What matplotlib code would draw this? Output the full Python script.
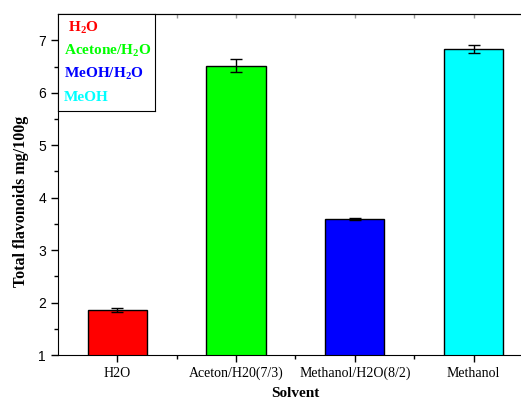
import numpy as np
import matplotlib.pyplot as plt

# solvent extraction results
categories = ['H2O', 'Aceton/H20(7/3)', 'Methanol/H2O(8/2)', 'Methanol']
values = [1.86, 6.52, 3.60, 6.83]
errors = [0.03, 0.12, 0.02, 0.08]
colors = ['#ff0000', '#00ff00', '#0000ff', '#00ffff']
legend_labels = [r'H$_\mathbf{2}$O', r'Acetone/H$_\mathbf{2}$O', r'MeOH/H$_\mathbf{2}$O', 'MeOH']

plt.rcParams['mathtext.fontset'] = 'custom'
plt.rcParams['mathtext.rm'] = 'Liberation Serif:bold'
plt.rcParams['mathtext.bf'] = 'Liberation Serif:bold'

fig = plt.figure(figsize=(5.21, 4.03), dpi=100)
ax = fig.add_axes([0.111, 0.119, 0.912, 0.846])

x = np.arange(1, len(categories) + 1)
ax.bar(x, values, width=0.5, color=colors, edgecolor='black', linewidth=1.0,
       yerr=errors, capsize=4, error_kw={'elinewidth': 1, 'capthick': 1, 'ecolor': 'black'})

ax.set_xlim(0.5, 4.5)
ax.set_ylim(1, 7.5)
ax.set_xticks(x)
ax.set_xticklabels(categories, fontfamily='Liberation Serif', fontsize=10)
ax.set_xticks([1.5, 2.5, 3.5], minor=True)
ax.set_yticks(range(1, 8))
ax.set_yticks(np.arange(1.5, 7.5, 1.0), minor=True)
for lbl in ax.get_yticklabels():
    lbl.set_fontfamily('Liberation Sans')
    lbl.set_fontsize(10)
ax.tick_params(axis='both', which='major', length=5, width=1, direction='out')
ax.tick_params(axis='both', which='minor', length=3, width=1, direction='out')

# short grey inward marks on the top spine
top = ax.secondary_xaxis('top')
top.set_xticks(list(x) + [1.5, 2.5, 3.5])
top.set_xticklabels([])
top.tick_params(direction='in', length=3, width=1, color='0.6')

ax.set_xlabel('Solvent', fontfamily='Liberation Serif', fontweight='bold', fontsize=11, labelpad=5)
ax.set_ylabel('Total flavonoids mg/100g', fontfamily='Liberation Serif', fontweight='bold', fontsize=11.5)
ax.yaxis.set_label_coords(-0.06, 0.45)

# legend as coloured text in a box
box_ax = fig.add_axes([0.111, 0.725, 0.186, 0.24])
box_ax.set_xticks([])
box_ax.set_yticks([])
box_ax.set_facecolor('white')
for i, (lab, c) in enumerate(zip(legend_labels, colors)):
    box_ax.text(0.06 if i else 0.1, 0.86 - i * 0.24, lab, color=c, fontsize=11,
                fontfamily='Liberation Serif', fontweight='bold',
                transform=box_ax.transAxes, va='center')

fig.savefig('out.png', dpi=100)
